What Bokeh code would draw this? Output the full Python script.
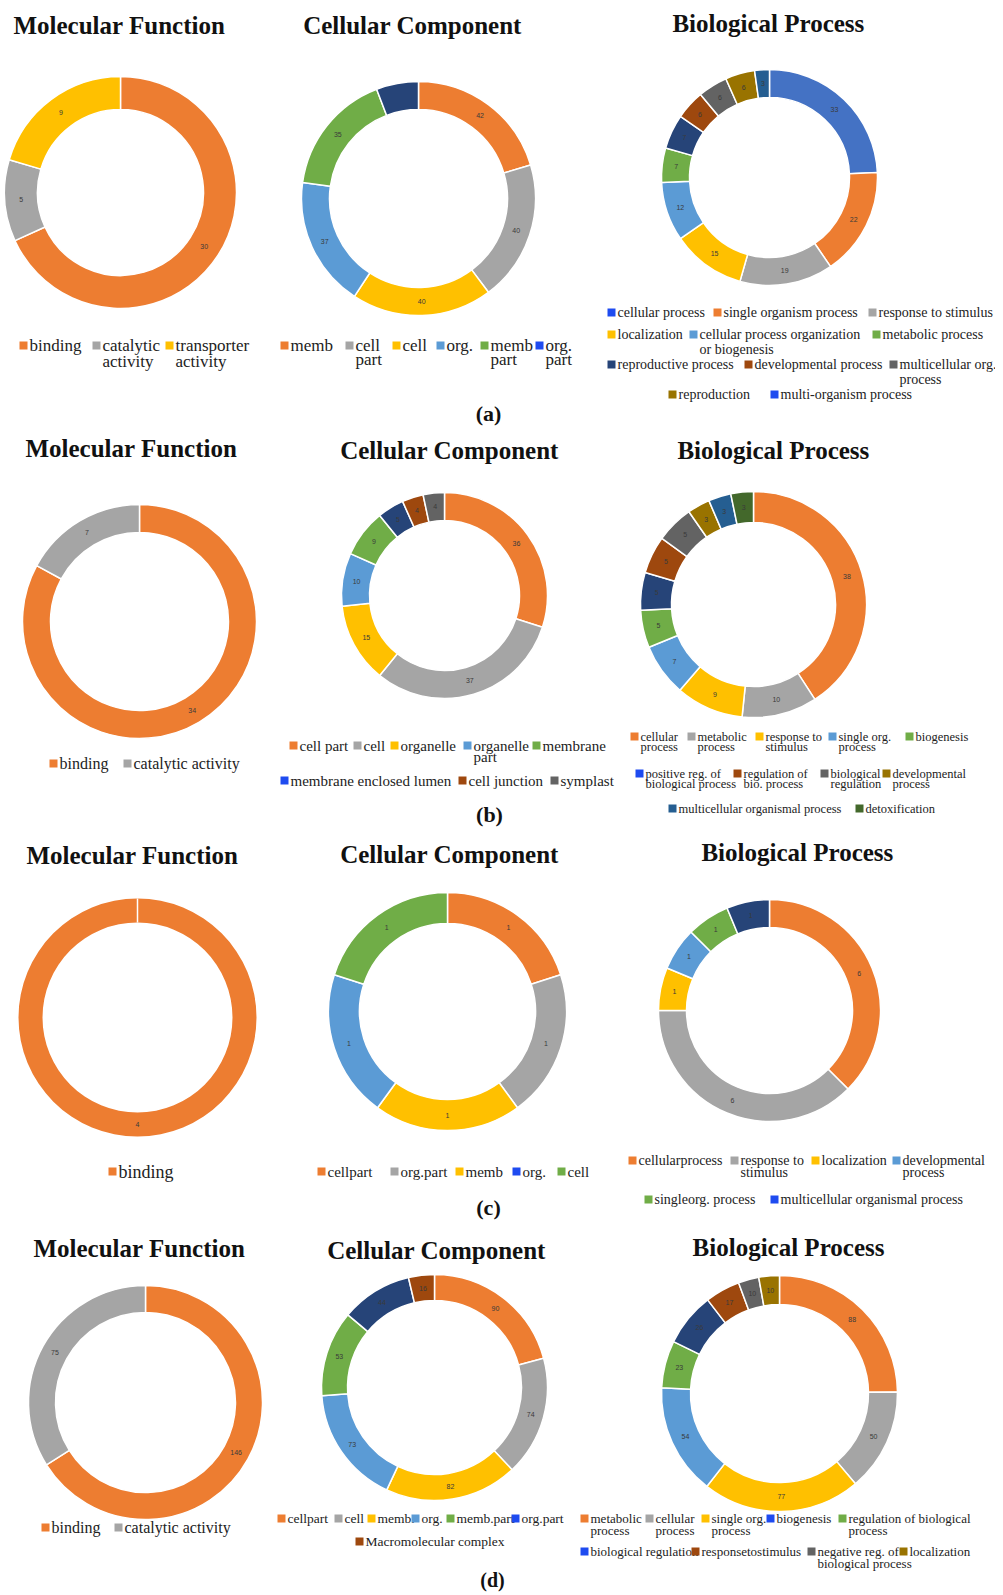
import numpy as np
from bokeh.plotting import figure
from bokeh.models import Range1d, ColumnDataSource
from bokeh.core.properties import value
from bokeh.embed import file_html
from bokeh.resources import INLINE

# ===================== DATA =====================
# (a)
a_mf_cats = ["binding", "catalytic\nactivity", "transporter\nactivity"]
a_mf_vals = [30, 5, 9]
a_cc_cats = ["memb", "cell\npart", "cell", "org.", "memb\npart", "org.\npart"]
a_cc_vals = [42, 40, 40, 37, 35, 12]
a_bp_cats = ["cellular process", "single organism process", "response to stimulus",
             "localization", "cellular process organization\nor biogenesis",
             "metabolic process", "reproductive process", "developmental process",
             "multicellular org.\nprocess", "reproduction", "multi-organism process"]
a_bp_vals = [33, 22, 19, 15, 12, 7, 7, 6, 6, 6, 3]
# (b)
b_mf_cats = ["binding", "catalytic  activity"]
b_mf_vals = [34, 7]
b_cc_cats = ["cell part", "cell", "organelle", "organelle\npart", "membrane",
             "membrane enclosed lumen", "cell junction", "symplast"]
b_cc_vals = [36, 37, 15, 10, 9, 5, 4, 4]
b_bp_cats = ["cellular\nprocess", "metabolic\nprocess", "response to\nstimulus",
             "single org.\nprocess", "biogenesis", "positive reg. of\nbiological process",
             "regulation of\nbio. process", "biological\nregulation", "developmental\nprocess",
             "multicellular organismal process", "detoxification"]
b_bp_vals = [38, 10, 9, 7, 5, 5, 5, 5, 3, 3, 3]
# (c)
c_mf_cats = ["binding"]
c_mf_vals = [4]
c_cc_cats = ["cellpart", "org.part", "memb", "org.", "cell"]
c_cc_vals = [1, 1, 1, 1, 1]
c_bp_cats = ["cellularprocess", "response to\nstimulus", "localization", "developmental\nprocess",
             "singleorg. process", "multicellular organismal process"]
c_bp_vals = [6, 6, 1, 1, 1, 1]
# (d)
d_mf_cats = ["binding", "catalytic activity"]
d_mf_vals = [146, 75]
d_cc_cats = ["cellpart", "cell", "memb.", "org.", "memb.part", "org.part", "Macromolecular complex"]
d_cc_vals = [90, 74, 82, 73, 53, 44, 16]
d_bp_cats = ["metabolic\nprocess", "cellular\nprocess", "single org.\nprocess", "biogenesis",
             "regulation of biological\nprocess", "biological regulation", "responsetostimulus",
             "negative reg. of\nbiological process", "localization"]
d_bp_vals = [88, 50, 77, 54, 23, 26, 17, 10, 10]

titles = ["Molecular  Function", "Cellular Component", "Biological  Process"]
panel_labels = ["(a)", "(b)", "(c)", "(d)"]

# ===================== STYLE =====================
OFFICE = ["#ED7D31", "#A5A5A5", "#FFC000", "#5B9BD5", "#70AD47", "#264478",
          "#9E480E", "#636363", "#997300", "#255E91", "#43682B"]
BLUE1 = "#4472C4"
BRIGHT = "#1E4BF0"
SERIF = value("Liberation Serif")

W, H = 995, 1592
p = figure(width=W, height=H, x_range=Range1d(0, W), y_range=Range1d(-H, 0),
           output_backend="svg", toolbar_location=None, x_axis_location=None,
           y_axis_location=None, min_border=0)
p.outline_line_color = None
p.xgrid.visible = False
p.ygrid.visible = False


def donut(cx, cy, r_in, r_out, vals, cols, show=None):
    vals = np.asarray(vals, dtype=float)
    n = len(vals)
    if n == 1:
        p.annulus(x=[cx], y=[-cy], inner_radius=r_in, outer_radius=r_out,
                  fill_color=cols[0], line_color=None)
        p.segment(x0=[cx], y0=[-cy + r_in], x1=[cx], y1=[-cy + r_out],
                  line_color="white", line_width=1.5)
        mid = np.array([np.pi / 2 - np.pi])
    else:
        frac = np.concatenate([[0.0], np.cumsum(vals)]) / vals.sum()
        start = np.pi / 2 - frac[:-1] * 2 * np.pi
        end = np.pi / 2 - frac[1:] * 2 * np.pi
        src = ColumnDataSource(dict(x=[cx] * n, y=[-cy] * n, s=start, e=end, c=cols[:n]))
        p.annular_wedge(x="x", y="y", inner_radius=r_in, outer_radius=r_out,
                        start_angle="s", end_angle="e", direction="clock",
                        fill_color="c", line_color="white", line_width=1.5, source=src)
        mid = (start + end) / 2
    rm = (r_in + r_out) / 2
    idx = range(n) if show is None else show
    xs = [cx + rm * np.cos(mid[i]) for i in idx]
    ys = [-cy + rm * np.sin(mid[i]) for i in idx]
    tx = ["%d" % vals[i] for i in idx]
    p.text(x=xs, y=ys, text=tx, text_font=value("Liberation Sans"), text_font_size="7px",
           text_color="#3a3a3a", text_align="center", text_baseline="middle")


def legend(entries, cats, cols, size, dy, sq=8):
    for (x, y), cat, col in zip(entries, cats, cols):
        p.rect(x=[x + sq / 2], y=[-y], width=sq, height=sq, fill_color=col, line_color=None)
        for k, line in enumerate(cat.split("\n")):
            p.text(x=[x + sq + 2], y=[-(y + k * dy)], text=[line], text_font=SERIF,
                   text_font_size=size, text_color="#222222", text_align="left",
                   text_baseline="middle")


def title(x, y, t, size="25px"):
    p.text(x=[x], y=[-y], text=[t], text_font=SERIF, text_font_style="bold",
           text_font_size=size, text_color="#111111", text_align="center",
           text_baseline="middle")


# ===================== ROW (a) =====================
title(122, 25, titles[0]); title(412, 25, titles[1]); title(771, 23, titles[2])
donut(120, 192, 83, 116, a_mf_vals, OFFICE)
donut(418, 198, 89, 117, a_cc_vals, OFFICE, show=[0, 1, 2, 3, 4])
donut(769, 177, 80, 108, a_bp_vals, [BLUE1] + OFFICE)
legend([(19, 345), (92, 345), (165, 345)], a_mf_cats, OFFICE, "17px", 16)
legend([(280, 345), (345, 345), (392, 345), (436, 345), (480, 345), (535, 345)],
       a_cc_cats, OFFICE[:5] + [BRIGHT], "17px", 14)
legend([(607, 312), (713, 312), (868, 312), (607, 334), (689, 334), (872, 334),
        (607, 364), (744, 364), (889, 364), (668, 394), (770, 394)],
       a_bp_cats, [BRIGHT] + OFFICE[:9] + [BRIGHT], "14px", 15)
title(488, 413, panel_labels[0], "22px")

# ===================== ROW (b) =====================
title(134, 448, titles[0]); title(449, 450, titles[1]); title(776, 450, titles[2])
donut(139, 621, 89, 117, b_mf_vals, OFFICE)
donut(444, 595, 75, 103, b_cc_vals, OFFICE)
donut(753, 604, 82, 113, b_bp_vals, OFFICE)
legend([(49, 763), (123, 763)], b_mf_cats, OFFICE, "16px", 15)
legend([(289, 745), (353, 745), (390, 745), (463, 745), (532, 745),
        (280, 780), (458, 780), (550, 780)],
       b_cc_cats, OFFICE[:5] + [BRIGHT] + OFFICE[6:8], "15px", 11)
legend([(630, 736), (687, 736), (755, 736), (828, 736), (905, 736),
        (635, 773), (733, 773), (820, 773), (882, 773), (668, 808), (855, 808)],
       b_bp_cats, OFFICE[:5] + [BRIGHT] + OFFICE[6:11], "12.5px", 10)
title(489, 814, panel_labels[1], "22px")

# ===================== ROW (c) =====================
title(135, 855, titles[0]); title(449, 854, titles[1]); title(800, 852, titles[2])
donut(137, 1017, 95, 119, c_mf_vals, OFFICE)
donut(447, 1011, 88, 119, c_cc_vals, OFFICE)
donut(769, 1010, 83, 111, c_bp_vals, OFFICE)
legend([(108, 1171)], c_mf_cats, OFFICE, "18px", 15)
legend([(317, 1171), (390, 1171), (455, 1171), (512, 1171), (557, 1171)],
       c_cc_cats, OFFICE[:3] + [BRIGHT] + [OFFICE[4]], "15px", 14)
legend([(628, 1160), (730, 1160), (811, 1160), (892, 1160), (644, 1199), (770, 1199)],
       c_bp_cats, OFFICE[:5] + [BRIGHT], "14px", 12)
title(488, 1207, panel_labels[2], "22px")

# ===================== ROW (d) =====================
title(142, 1248, titles[0]); title(436, 1250, titles[1]); title(788, 1247, "Biological Process")
donut(145, 1402, 90, 117, d_mf_vals, OFFICE)
donut(434, 1387, 87, 113, d_cc_vals, OFFICE)
donut(779, 1393, 89, 118, d_bp_vals, OFFICE)
legend([(41, 1527), (114, 1527)], d_mf_cats, OFFICE, "16px", 15)
legend([(277, 1518), (334, 1518), (367, 1518), (411, 1518), (446, 1518), (511, 1518),
        (355, 1541)], d_cc_cats, OFFICE[:5] + [BRIGHT] + [OFFICE[6]], "13.5px", 12)
legend([(580, 1518), (645, 1518), (701, 1518), (766, 1518), (838, 1518),
        (580, 1551), (691, 1551), (807, 1551), (899, 1551)],
       d_bp_cats, OFFICE[:3] + [BRIGHT] + [OFFICE[4], BRIGHT] + OFFICE[6:9], "13px", 12)
title(492, 1579, panel_labels[3], "20px")

open("out.html", "w").write(file_html(p, INLINE))
